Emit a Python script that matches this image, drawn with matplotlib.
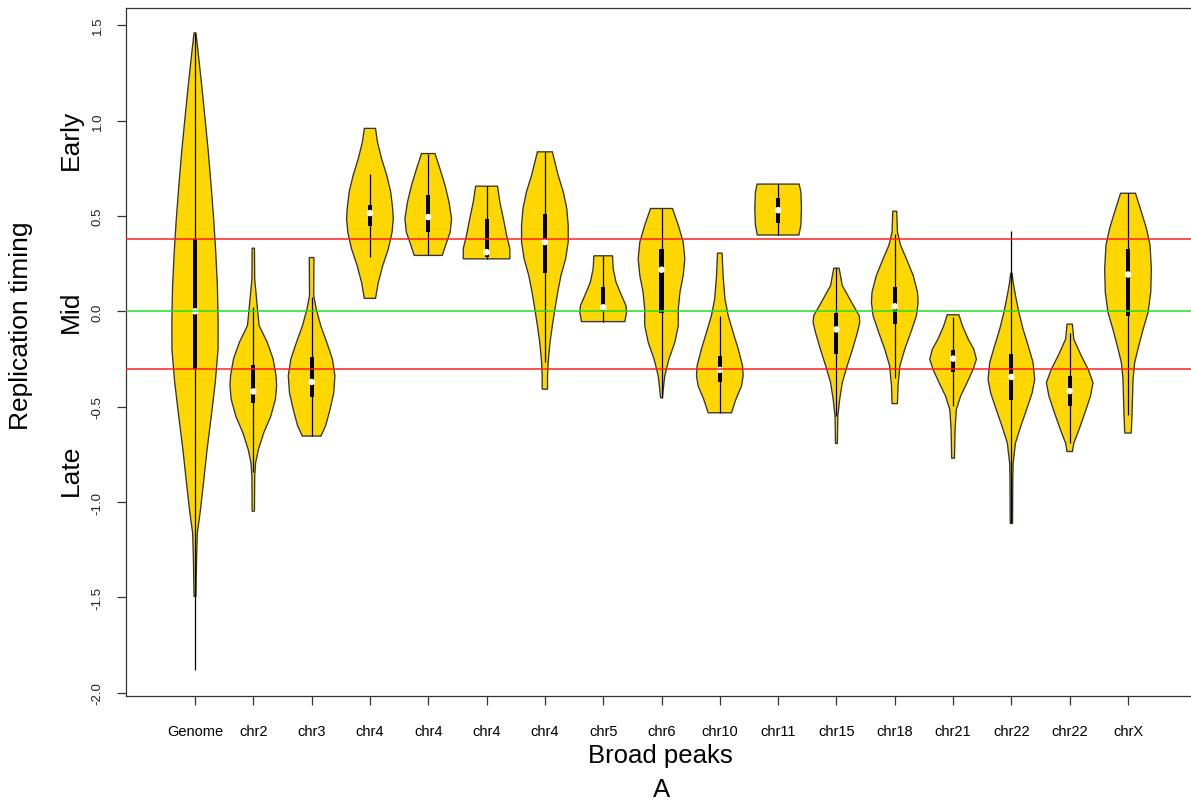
import numpy as np
import matplotlib.pyplot as plt

labels = ["Genome", "chr2", "chr3", "chr4", "chr4", "chr4", "chr4", "chr5", "chr6",
          "chr10", "chr11", "chr15", "chr18", "chr21", "chr22", "chr22", "chrX"]

# box statistics
w_lo = [-1.88, -0.84, -0.654, 0.284, 0.293, 0.275, -0.268, -0.054, -0.453,
        -0.532, 0.40, -0.549, -0.347, -0.497, -1.112, -0.69, -0.541]
q1 = [-0.302, -0.48, -0.45, 0.447, 0.415, 0.284, 0.20, 0.004, -0.009,
      -0.37, 0.463, -0.225, -0.067, -0.318, -0.466, -0.494, -0.023]
med = [0.0, -0.42, -0.37, 0.515, 0.494, 0.31, 0.363, 0.021, 0.218,
       -0.307, 0.53, -0.095, 0.026, -0.248, -0.344, -0.418, 0.193]
q3 = [0.379, -0.28, -0.24, 0.556, 0.612, 0.486, 0.512, 0.126, 0.328,
      -0.233, 0.596, -0.009, 0.126, -0.202, -0.225, -0.339, 0.329]
w_hi = [1.46, 0.02, 0.074, 0.722, 0.827, 0.656, 0.836, 0.291, 0.539,
        -0.023, 0.667, 0.226, 0.407, -0.032, 0.42, -0.114, 0.619]

# violin outlines: y levels (top -> bottom) and relative density (1 = widest)
dens_y = [
    [1.46, 1.363, 1.188, 1.012, 0.837, 0.661, 0.486, 0.311, 0.135, -0.04, -0.197, -0.372, -0.548, -0.723, -0.899, -1.04, -1.109, -1.162, -1.285, -1.495],
    [0.331, 0.17, 0.012, -0.075, -0.163, -0.25, -0.338, -0.39, -0.46, -0.55, -0.636, -0.724, -0.794, -0.864, -1.048],
    [0.282, 0.082, 0.012, -0.075, -0.163, -0.25, -0.338, -0.426, -0.514, -0.60, -0.654],
    [0.959, 0.889, 0.80, 0.713, 0.626, 0.538, 0.486, 0.415, 0.328, 0.24, 0.152, 0.068],
    [0.827, 0.748, 0.66, 0.573, 0.486, 0.415, 0.363, 0.293],
    [0.656, 0.573, 0.486, 0.398, 0.328, 0.275],
    [0.836, 0.713, 0.626, 0.538, 0.45, 0.363, 0.275, 0.188, 0.1, 0.012, -0.075, -0.163, -0.268, -0.338, -0.408],
    [0.291, 0.223, 0.153, 0.082, 0.03, -0.005, -0.054],
    [0.539, 0.451, 0.363, 0.275, 0.188, 0.1, 0.012, -0.075, -0.163, -0.25, -0.339, -0.409, -0.453],
    [0.305, 0.188, 0.065, -0.023, -0.11, -0.198, -0.286, -0.339, -0.391, -0.461, -0.532],
    [0.667, 0.626, 0.539, 0.451, 0.40],
    [0.226, 0.135, 0.047, -0.023, -0.058, -0.11, -0.198, -0.286, -0.374, -0.461, -0.549, -0.693],
    [0.525, 0.416, 0.346, 0.275, 0.188, 0.1, 0.047, -0.023, -0.11, -0.198, -0.286, -0.391, -0.484],
    [-0.018, -0.076, -0.146, -0.199, -0.251, -0.304, -0.374, -0.445, -0.515, -0.62, -0.77],
    [0.20, 0.153, 0.083, -0.005, -0.093, -0.181, -0.269, -0.357, -0.427, -0.515, -0.603, -0.69, -0.796, -0.884, -1.112],
    [-0.067, -0.146, -0.234, -0.304, -0.374, -0.445, -0.533, -0.62, -0.691, -0.735],
    [0.619, 0.522, 0.434, 0.346, 0.223, 0.1, -0.005, -0.093, -0.181, -0.269, -0.357, -0.532, -0.638],
]
dens_w = [
    [0.04, 0.13, 0.285, 0.43, 0.57, 0.69, 0.8, 0.89, 0.96, 0.99, 0.99, 0.87, 0.7, 0.52, 0.365, 0.235, 0.16, 0.1, 0.07, 0.04],
    [0.05, 0.06, 0.18, 0.25, 0.6, 0.85, 0.975, 1.0, 0.95, 0.75, 0.45, 0.22, 0.1, 0.06, 0.05],
    [0.1, 0.09, 0.2, 0.39, 0.65, 0.89, 1.0, 0.95, 0.79, 0.6, 0.4],
    [0.24, 0.32, 0.5, 0.72, 0.89, 0.975, 1.0, 0.95, 0.79, 0.55, 0.36, 0.24],
    [0.29, 0.5, 0.72, 0.89, 1.0, 0.94, 0.79, 0.6],
    [0.47, 0.57, 0.72, 0.86, 1.0, 1.0],
    [0.32, 0.57, 0.79, 0.94, 1.0, 1.0, 0.89, 0.69, 0.55, 0.43, 0.32, 0.22, 0.14, 0.115, 0.115],
    [0.4, 0.43, 0.55, 0.79, 0.975, 1.0, 0.93],
    [0.47, 0.72, 0.93, 1.0, 0.93, 0.79, 0.72, 0.72, 0.57, 0.32, 0.14, 0.075, 0.04],
    [0.1, 0.14, 0.22, 0.36, 0.57, 0.79, 0.975, 1.0, 0.93, 0.69, 0.5],
    [0.9, 0.975, 1.0, 0.975, 0.89],
    [0.115, 0.25, 0.65, 0.975, 1.0, 0.9, 0.69, 0.46, 0.25, 0.14, 0.06, 0.04],
    [0.085, 0.115, 0.25, 0.5, 0.79, 0.975, 1.0, 0.93, 0.69, 0.43, 0.22, 0.14, 0.115],
    [0.25, 0.4, 0.65, 0.89, 1.0, 0.86, 0.6, 0.32, 0.14, 0.085, 0.06],
    [0.03, 0.075, 0.175, 0.32, 0.5, 0.72, 0.93, 1.0, 0.89, 0.65, 0.4, 0.175, 0.075, 0.06, 0.05],
    [0.115, 0.175, 0.5, 0.79, 1.0, 0.89, 0.65, 0.4, 0.175, 0.115],
    [0.32, 0.57, 0.79, 0.945, 1.0, 0.975, 0.86, 0.65, 0.46, 0.285, 0.215, 0.175, 0.14],
]

pos = np.arange(1, len(labels) + 1)
half = 0.4      # max half width of a violin
boxw = 0.07

fig = plt.figure(figsize=(11.91, 8.03), dpi=100)
ax = fig.add_axes([126/1191, 1 - 696.7/803, 1071/1191, 687.7/803])

for i, x in enumerate(pos):
    yy = np.array(dens_y[i])
    ww = np.array(dens_w[i]) * half
    px = np.concatenate([x - ww[::-1], x + ww])
    py = np.concatenate([yy[::-1], yy])
    ax.fill(px, py, facecolor="#FFD700", edgecolor="#333333", lw=0.95, zorder=2)

ax.vlines(pos, w_lo, w_hi, color="black", lw=0.9, zorder=3)
ax.bar(pos, np.array(q3) - np.array(q1), bottom=q1, width=boxw, color="black", zorder=4)
ax.scatter(pos, med, s=22, color="white", edgecolors="none", zorder=5)

# reference lines at the genome quartiles and median
for v in (q3[0], q1[0]):
    ax.axhline(v, color="#ff2020", lw=1.1, zorder=6)
ax.axhline(med[0], color="#22dd22", lw=1.1, zorder=6)

ax.set_xlim(-0.183, 18.183)
ax.set_ylim(-2.015, 1.59)
ax.set_xticks(pos)
ax.set_xticklabels(labels, fontsize=10.5, family="Liberation Sans")
yt = np.arange(-2.0, 1.51, 0.5)
ax.set_yticks(yt)
ax.set_yticklabels(["%.1f" % v for v in yt], rotation=90, va="center",
                   fontsize=9.5, family="Liberation Sans", color="#222222")
ax.tick_params(axis="both", length=6.5, width=0.9, color="#333333")
ax.tick_params(axis="x", pad=14)
ax.tick_params(axis="y", pad=9.5)
for s in ax.spines.values():
    s.set_color("#333333")
    s.set_linewidth(0.9)

fig.text(21.5/1191, 1 - 326/803, "Replication timing", rotation=90, ha="center", va="center",
         fontsize=19, family="Liberation Sans")
for txt, yp in (("Early", 140), ("Mid", 312), ("Late", 470)):
    fig.text(71/1191, 1 - yp/803, txt, rotation=90, ha="center", va="center",
             fontsize=19, family="Liberation Sans")
fig.text(660/1191, 1 - 756/803, "Broad peaks", ha="center", va="center", fontsize=18.5,
         family="Liberation Sans")
fig.text(662/1191, 1 - 790/803, "A", ha="center", va="center", fontsize=18.5,
         family="Liberation Sans")

fig.savefig("out.png", dpi=100)
